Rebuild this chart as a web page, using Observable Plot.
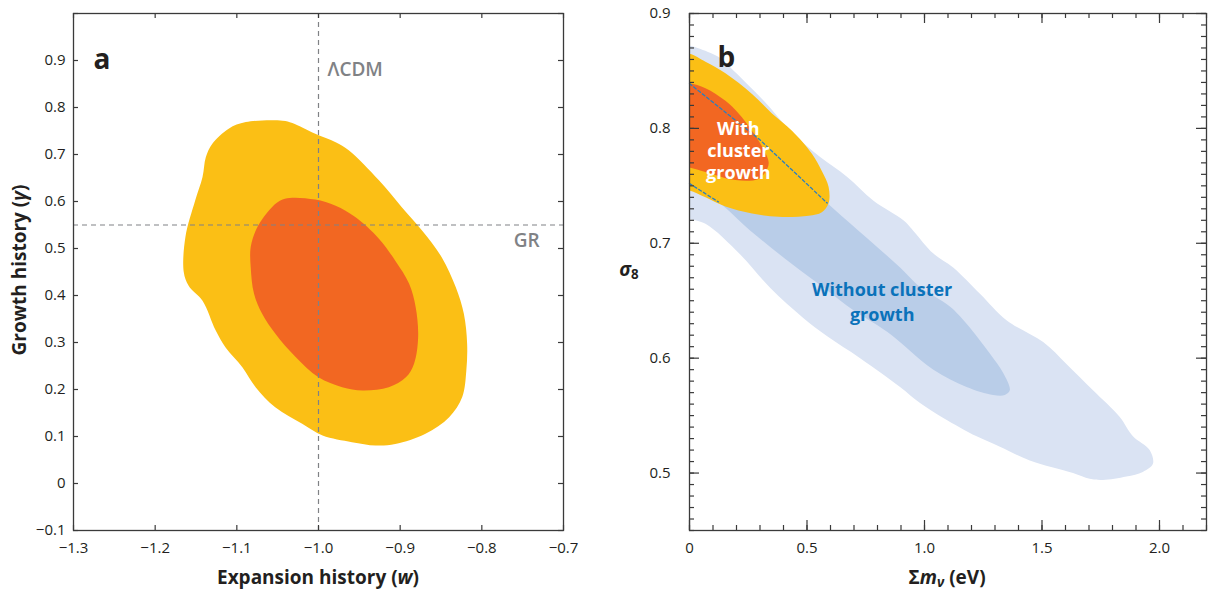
<!DOCTYPE html>
<html><head><meta charset="utf-8">
<script src="https://cdn.jsdelivr.net/npm/d3@7"></script>
<script src="https://cdn.jsdelivr.net/npm/@observablehq/plot@0.6"></script>
<style>
html,body{margin:0;padding:0;background:#fff;}
#wrap{position:relative;width:1208px;height:590px;overflow:hidden;font-family:"Open Sans",sans-serif;color:#231f20;}
.panel{position:absolute;top:0;}
.t{position:absolute;font-weight:700;font-size:19px;white-space:nowrap;line-height:1;transform:translate(-50%,-50%);}
.t sub{font-size:0.7em;vertical-align:-0.3em;line-height:0;}
</style></head><body>
<div id="wrap"></div>
<script>
// ---------- Panel a: expansion (w) vs growth (gamma) ----------
const aXTicks = [-1.3, -1.2, -1.1, -1.0, -0.9, -0.8, -0.7];
const aYTicks = [-0.1, 0, 0.1, 0.2, 0.3, 0.4, 0.5, 0.6, 0.7, 0.8, 0.9, 1.0];
const aYLabels = [-0.1, 0, 0.1, 0.2, 0.3, 0.4, 0.5, 0.6, 0.7, 0.8, 0.9];
const lcdmW = [-1.0];
const grGamma = [0.55];
// 95% contour (w, gamma)
const growthOuter = [[-1.089,0.769],[-1.044,0.772],[-1.032,0.767],[-1.004,0.744],[-0.979,0.726],[-0.963,0.709],[-0.926,0.645],[-0.898,0.588],[-0.873,0.538],[-0.849,0.481],[-0.832,0.418],[-0.822,0.361],[-0.818,0.297],[-0.819,0.240],[-0.824,0.184],[-0.840,0.141],[-0.869,0.106],[-0.906,0.084],[-0.930,0.081],[-0.959,0.088],[-0.995,0.102],[-1.020,0.127],[-1.053,0.162],[-1.077,0.205],[-1.093,0.247],[-1.114,0.290],[-1.126,0.326],[-1.142,0.389],[-1.159,0.421],[-1.165,0.450],[-1.163,0.524],[-1.151,0.602],[-1.142,0.652],[-1.138,0.694],[-1.130,0.723],[-1.110,0.755]];
// 68% contour (w, gamma)
const growthInner = [[-1.032,0.608],[-1.004,0.604],[-0.979,0.591],[-0.955,0.567],[-0.926,0.521],[-0.906,0.474],[-0.889,0.425],[-0.881,0.375],[-0.878,0.311],[-0.883,0.255],[-0.893,0.226],[-0.914,0.205],[-0.946,0.198],[-0.971,0.205],[-1.000,0.226],[-1.028,0.269],[-1.053,0.319],[-1.069,0.361],[-1.079,0.404],[-1.083,0.460],[-1.083,0.503],[-1.075,0.545],[-1.057,0.588],[-1.044,0.604]];
const aNotes = [{x: -0.989, y: 0.879, text: "\u039BCDM"}, {x: -0.761, y: 0.517, text: "GR"}];

// ---------- Panel b: sum of neutrino masses vs sigma8 ----------
const bXMajor = [0, 0.5, 1.0, 1.5, 2.0];
const bYMajor = [0.5, 0.6, 0.7, 0.8, 0.9];
const bXMinor = d3.range(0, 23).map(i => i / 10);
const bYMinor = d3.range(45, 91).map(i => i / 100);
// without cluster growth, 95%
const sigmaOuter = [[0,0.872],[0.047,0.869],[0.132,0.861],[0.174,0.853],[0.316,0.824],[0.429,0.798],[0.556,0.775],[0.670,0.758],[0.783,0.737],[0.910,0.720],[0.952,0.711],[1.038,0.691],[1.122,0.679],[1.236,0.656],[1.349,0.633],[1.505,0.614],[1.604,0.595],[1.717,0.572],[1.830,0.549],[1.887,0.532],[1.958,0.520],[1.972,0.508],[1.929,0.501],[1.859,0.497],[1.759,0.494],[1.703,0.495],[1.632,0.500],[1.448,0.511],[1.321,0.523],[1.222,0.532],[1.080,0.548],[0.981,0.561],[0.896,0.575],[0.726,0.600],[0.586,0.619],[0.484,0.635],[0.344,0.661],[0.217,0.690],[0.068,0.717],[0,0.721],[-0.05,0.722],[-0.05,0.871]];
// without cluster growth, 68%
const sigmaInner = [[0,0.839],[0.3,0.790],[0.586,0.735],[0.896,0.679],[0.981,0.662],[1.108,0.645],[1.179,0.630],[1.278,0.604],[1.335,0.587],[1.363,0.572],[1.342,0.568],[1.292,0.568],[1.179,0.575],[1.038,0.590],[0.841,0.623],[0.696,0.642],[0.586,0.659],[0.429,0.683],[0.259,0.711],[0.123,0.736],[0,0.752],[-0.05,0.753],[-0.05,0.838]];
// hidden edges of the 68% region, shown dashed
const dashTop = [[0,0.839],[0.3,0.790],[0.586,0.735]];
const dashBottom = [[0,0.752],[0.123,0.736]];
// with cluster growth, 95%
const clusterOuter = [[0,0.865],[0.068,0.858],[0.153,0.848],[0.266,0.830],[0.351,0.813],[0.436,0.798],[0.521,0.778],[0.563,0.763],[0.592,0.749],[0.592,0.735],[0.563,0.727],[0.507,0.724],[0.379,0.723],[0.266,0.726],[0.153,0.732],[0.068,0.740],[0,0.746],[-0.05,0.747],[-0.05,0.864]];
// with cluster growth, 68%
const clusterInner = [[0,0.839],[0.068,0.835],[0.153,0.824],[0.209,0.813],[0.266,0.798],[0.309,0.784],[0.337,0.770],[0.323,0.762],[0.294,0.756],[0.195,0.755],[0.068,0.762],[0,0.766],[-0.05,0.767],[-0.05,0.838]];
const bNotes = [
  {x: 0.208, y: 0.781, text: "With\ncluster\ngrowth", color: "#ffffff", lh: 1.22},
  {x: 0.82, y: 0.650, text: "Without cluster\ngrowth", color: "#0a72ba", lh: 1.38}
];

// ---------- helpers ----------
const INK = "#3a3a3a";
const fmt = d => Math.abs(d) < 1e-9 ? "0" : d.toFixed(1).replace("-", "\u2212");
const fx = d => d[0], fy = d => d[1];

function frameTicks(xt, yt, len, xd, yd, iw, ih) {
  const dx = (xd[1] - xd[0]) / iw * len, dy = (yd[1] - yd[0]) / ih * len;
  const o = {stroke: INK, strokeWidth: 1.2};
  return [
    Plot.ruleX(xt, {x: d => d, y1: yd[0], y2: yd[0] + dy, ...o}),
    Plot.ruleX(xt, {x: d => d, y1: yd[1], y2: yd[1] - dy, ...o}),
    Plot.ruleY(yt, {y: d => d, x1: xd[0], x2: xd[0] + dx, ...o}),
    Plot.ruleY(yt, {y: d => d, x1: xd[1], x2: xd[1] - dx, ...o})
  ];
}
const style = {fontFamily: '"Open Sans", sans-serif', fontSize: "15px", color: "#231f20", background: "none", overflow: "visible"};
const axisText = {fontSize: 15, fill: "#231f20"};

// ---------- Panel a ----------
const A = {w: 600, h: 590, ml: 73, mr: 37, mt: 13, mb: 60, xd: [-1.3, -0.7], yd: [-0.1, 1.0]};
const plotA = Plot.plot({
  width: A.w, height: A.h, marginLeft: A.ml, marginRight: A.mr, marginTop: A.mt, marginBottom: A.mb,
  x: {domain: A.xd}, y: {domain: A.yd}, style,
  marks: [
    Plot.line(growthOuter, {x: fx, y: fy, curve: "catmull-rom-closed", fill: "#FBBF15", stroke: "none"}),
    Plot.line(growthInner, {x: fx, y: fy, curve: "catmull-rom-closed", fill: "#F26722", stroke: "none"}),
    Plot.ruleX(lcdmW, {x: d => d, stroke: "#808285", strokeWidth: 1.2, strokeDasharray: "5,4"}),
    Plot.ruleY(grGamma, {y: d => d, stroke: "#808285", strokeWidth: 1.2, strokeDasharray: "5,4"}),
    Plot.text(aNotes, {x: "x", y: "y", text: "text", textAnchor: "start", fontSize: 19, fontWeight: 600, fill: "#808285"}),
    Plot.text(["a"], {frameAnchor: "top-left", dx: 20, dy: 36, textAnchor: "start", fontSize: 28, fontWeight: 700, fill: "#231f20"}),
    Plot.axisX({ticks: aXTicks, anchor: "bottom", tickSize: 0, tickPadding: 12, tickFormat: fmt, label: null, ...axisText}),
    Plot.axisY({ticks: aYLabels, anchor: "left", tickSize: 0, tickPadding: 8, tickFormat: fmt, label: null, ...axisText}),
    ...frameTicks(aXTicks, aYTicks, 5, A.xd, A.yd, A.w - A.ml - A.mr, A.h - A.mt - A.mb),
    Plot.frame({stroke: INK, strokeWidth: 1.3})
  ]
});

// ---------- Panel b ----------
const B = {w: 608, h: 590, ml: 89, mr: 2, mt: 13, mb: 60, xd: [0, 2.2], yd: [0.45, 0.9]};
const bw = B.w - B.ml - B.mr, bh = B.h - B.mt - B.mb;
const plotB = Plot.plot({
  width: B.w, height: B.h, marginLeft: B.ml, marginRight: B.mr, marginTop: B.mt, marginBottom: B.mb,
  x: {domain: B.xd}, y: {domain: B.yd}, style,
  marks: [
    Plot.line(sigmaOuter, {x: fx, y: fy, curve: "catmull-rom-closed", fill: "#DAE3F3", stroke: "none", clip: true}),
    Plot.line(sigmaInner, {x: fx, y: fy, curve: "catmull-rom-closed", fill: "#B9CDE8", stroke: "none", clip: true}),
    Plot.line(clusterOuter, {x: fx, y: fy, curve: "catmull-rom-closed", fill: "#FBBF15", stroke: "none", clip: true}),
    Plot.line(clusterInner, {x: fx, y: fy, curve: "catmull-rom-closed", fill: "#F26722", stroke: "none", clip: true}),
    Plot.line(dashTop, {x: fx, y: fy, stroke: "#2a7fc0", strokeWidth: 1.3, strokeDasharray: "3,2.5"}),
    Plot.line(dashBottom, {x: fx, y: fy, stroke: "#2a7fc0", strokeWidth: 1.3, strokeDasharray: "3,2.5"}),
    ...bNotes.map(n => Plot.text([n], {x: "x", y: "y", text: "text", fill: n.color, fontSize: 18, fontWeight: 700, lineHeight: n.lh, textAnchor: "middle"})),
    Plot.text(["b"], {frameAnchor: "top-left", dx: 28, dy: 34, textAnchor: "start", fontSize: 28, fontWeight: 700, fill: "#231f20"}),
    Plot.axisX({ticks: bXMajor, anchor: "bottom", tickSize: 0, tickPadding: 12, tickFormat: fmt, label: null, ...axisText}),
    Plot.axisY({ticks: bYMajor, anchor: "left", tickSize: 0, tickPadding: 19, tickFormat: fmt, label: null, ...axisText}),
    ...frameTicks(bXMinor, bYMinor, 5, B.xd, B.yd, bw, bh),
    ...frameTicks(bXMajor, bYMajor, 10, B.xd, B.yd, bw, bh),
    Plot.frame({stroke: INK, strokeWidth: 1.3})
  ]
});

const wrap = document.getElementById("wrap");
function place(node, left) {
  const d = document.createElement("div");
  d.className = "panel"; d.style.left = left + "px";
  d.appendChild(node); wrap.appendChild(d);
}
place(plotA, 0);
place(plotB, 600);

function label(html, cx, cy, rot) {
  const d = document.createElement("div");
  d.className = "t"; d.innerHTML = html;
  d.style.left = cx + "px"; d.style.top = cy + "px";
  if (rot) d.style.transform = "translate(-50%,-50%) rotate(-90deg)";
  wrap.appendChild(d);
}
label("Expansion history (<i>w</i>)", 318, 577);
label("Growth history (<i>\u03B3</i>)", 19, 270, true);
label("<i>\u03C3</i><sub>8</sub>", 629, 269);
label("\u03A3<i>m</i><sub><i>\u03BD</i></sub> (eV)", 947, 577);
</script>
</body></html>
